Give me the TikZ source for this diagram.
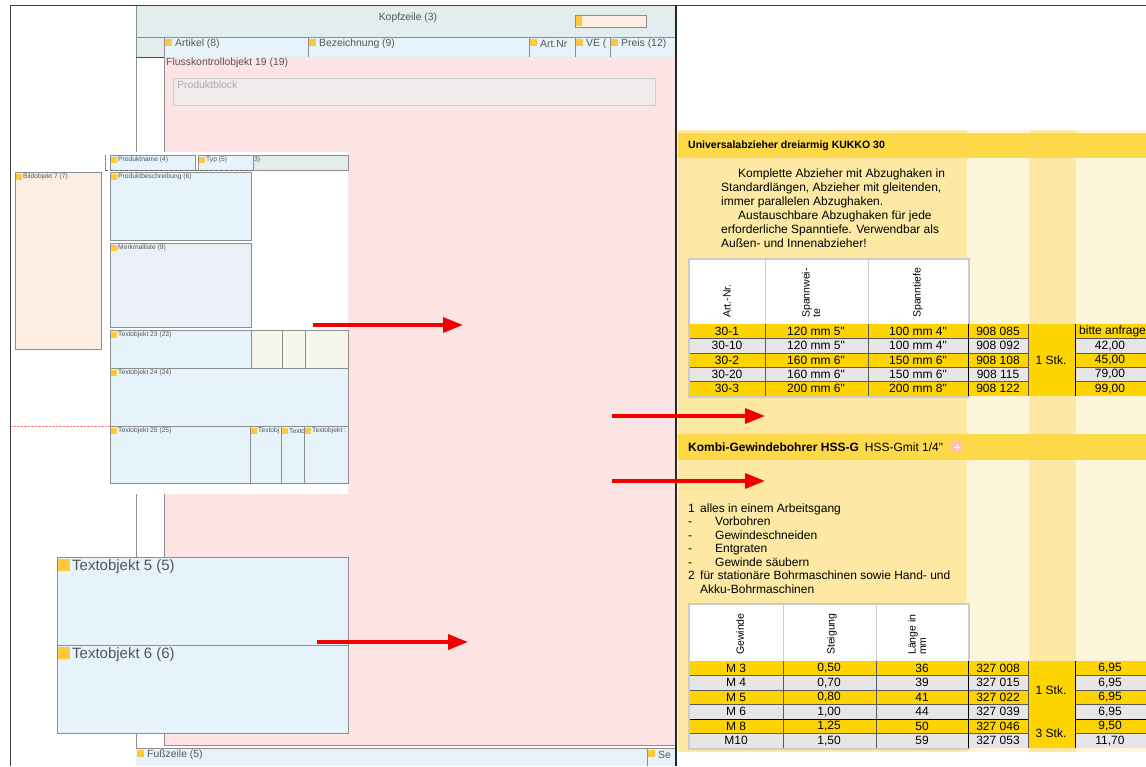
\documentclass[tikz,border=0pt]{standalone}
\usepackage{fontspec}
\setmainfont{Liberation Sans}
\usetikzlibrary{arrows.meta}
\usepackage{xcolor}

\definecolor{headgrey}{HTML}{E2EDED}
\definecolor{cellblue}{HTML}{E6F3FA}
\definecolor{flowpink}{HTML}{FDE4E4}
\definecolor{blockgrey}{HTML}{F0EAEA}
\definecolor{peach}{HTML}{FDEEE1}
\definecolor{lavender}{HTML}{EBEFF8}
\definecolor{cream}{HTML}{F6F7EA}
\definecolor{tagyellow}{HTML}{FBC93B}
\definecolor{framegrey}{HTML}{8E8E8E}
\definecolor{labelgrey}{HTML}{555555}
\definecolor{paleyellow}{HTML}{FDE9A4}
\definecolor{lightstripe}{HTML}{FEF6DA}
\definecolor{bandgold}{HTML}{FDD848}
\definecolor{rowyellow}{HTML}{FED400}
\definecolor{rowgrey}{HTML}{E6E6E6}
\definecolor{tabgrey}{HTML}{CCCCCC}
\definecolor{arrowred}{HTML}{F00000}

\begin{document}
\begin{tikzpicture}[x=1pt,y=-1pt,
  box/.style={draw=framegrey, line width=0.6pt},
  tag/.style={fill=tagyellow},
  lbl/.style={inner sep=0pt, text=labelgrey, font=\fontsize{10.4}{11}\selectfont},
  small/.style={inner sep=0pt, text=labelgrey, font=\fontsize{6.7}{7}\selectfont},
  big/.style={inner sep=0pt, text=labelgrey, font=\fontsize{15}{16}\selectfont},
  txt/.style={inner sep=0pt, font=\fontsize{12}{13}\selectfont},
  cell/.style={inner sep=0pt, font=\fontsize{12}{12}\selectfont},
  headtxt/.style={inner sep=0pt, rotate=90, align=left, font=\fontsize{10.5}{10.5}\selectfont},
  rowline/.style={draw=black!65, line width=0.5pt},
  redarrow/.style={draw=arrowred, line width=3.5pt, -{Triangle[length=20pt,width=15pt]}}]
\useasboundingbox (0,0) rectangle (1146,766);
\fill[white] (0,0) rectangle (1146,766);

%%% left: layout editor
%kopfzeile
\fill[headgrey] (136,5) rectangle (676,57);
\draw[box] (136,5) rectangle (676,37);
\node[lbl] (kopf) at (408,18) {Kopfzeile (3)};
\draw[box, fill=peach] (575,15) rectangle (646,27);
\fill[tag] (576,16) rectangle (582,26);
%column titles
\draw[box, fill=headgrey] (136,37) rectangle (164,57);
\foreach \xa/\xb/\t in {164/308/Artikel (8), 308/529/Bezeichnung (9), 529/575/Art.Nr, 575/610/VE (, 610/676/Preis (12)}{
  \draw[box, fill=cellblue] (\xa,37) rectangle (\xb,57);
  \fill[tag] (\xa+1,39) rectangle (\xa+8,46);
  \node[lbl, anchor=west] at (\xa+11,43.5) {\t};
}
%flow control area
\fill[flowpink] (164,57) rectangle (676,745);
\draw[box] (164,57) -- (164,745) -- (676,745);
\draw[box] (136,37) -- (136,766);
\draw[line width=1.4pt, black!70] (136,57.5) -- (164,57.5);
\node[lbl, anchor=west] (flow) at (166,63) {Flusskontrollobjekt 19 (19)};
\draw[tabgrey, line width=1pt, fill=blockgrey] (173,78) rectangle (655,105);
\node[lbl, anchor=west, text=black!33] (block) at (177,85) {Produktblock};

%product block overlay
\fill[white] (11,152) rectangle (348,494);
\draw[box] (105,155) -- (105,170);
\draw[box, fill=cellblue] (110,155) rectangle (195,170);
\draw[box, fill=cellblue] (198,155) rectangle (253,170);
\draw[box, fill=headgrey] (253,155) rectangle (348,170);
\draw[black!60, densely dashed] (105,170) -- (253,170);
\fill[tag] (111,157) rectangle (117,163);
\node[small, anchor=west] at (118,160) {Produktname (4)};
\fill[tag] (199,157) rectangle (205,163);
\node[small, anchor=west] at (206,160) {Typ (5)};
\node[small, anchor=west] at (254,160) {3)};
%boxes
\draw[box, fill=peach] (15,172) rectangle (101,349);
\draw[box, fill=cellblue] (110,172) rectangle (251,240);
\draw[box, fill=lavender] (110,243) rectangle (251,327);
\draw[box, fill=cellblue] (110,330) rectangle (251,368);
\foreach \xa/\xb in {251/282, 282/305, 305/348}
  \draw[box, fill=cream] (\xa,330) rectangle (\xb,368);
\draw[box, fill=cellblue] (110,368) rectangle (348,426);
\draw[red!50, densely dotted] (11,426) -- (110,426);
\draw[box, fill=cellblue] (110,426) rectangle (250,483);
\foreach \xa/\xb in {250/281, 281/304, 304/348}
  \draw[box, fill=cellblue] (\xa,426) rectangle (\xb,483);
\foreach \xa/\ya/\t in {15/172/Bildobjekt 7 (7), 110/172/Produktbeschreibung (6), 110/243/Merkmalliste (9),
    110/330/Textobjekt 23 (23), 110/368/Textobjekt 24 (24), 110/426/Textobjekt 25 (25),
    250/426/Textobj, 281/426/Textc, 304/426/Textobjekt :}{
  \fill[tag] (\xa+1,\ya+2) rectangle (\xa+7,\ya+8);
  \node[small, anchor=west] at (\xa+8,\ya+5) {\t};
}

%text objects 5 and 6
\draw[box, fill=cellblue] (57,557) rectangle (348,645);
\draw[box, fill=cellblue] (57,645) rectangle (348,733);
\fill[tag] (58,559) rectangle (70,571);
\node[big, anchor=west] (text5) at (72,567) {Textobjekt 5 (5)};
\fill[tag] (58,647) rectangle (70,659);
\node[big, anchor=west] (text6) at (72,655) {Textobjekt 6 (6)};

%fusszeile
\fill[cellblue] (136,748) rectangle (676,766);
\draw[box] (136,748) -- (676,748) (647,748) -- (647,766);
\fill[tag] (137,750) rectangle (144,757);
\node[lbl, anchor=west] (foot) at (147,754.5) {Fußzeile (5)};
\fill[tag] (648,750) rectangle (655,757);
\node[lbl, anchor=west] at (658,754.5) {Se};

%frame
\draw[line width=1pt, black!75] (10,766) -- (10,5) -- (1146,5);
\draw[line width=2pt, black!85] (676,5) -- (676,766);

%%% right: print preview
\fill[paleyellow] (678,130) rectangle (967,752);
\fill[lightstripe] (967,130) rectangle (1029,752);
\fill[paleyellow] (1029,130) rectangle (1076,752);
\fill[lightstripe] (1076,130) rectangle (1146,752);
%title bands
\fill[bandgold] (678,133) rectangle (1146,158);
\node[txt, anchor=west, font=\fontsize{10.5}{11}\selectfont\bfseries] (title1) at (688,145.5) {Universalabzieher dreiarmig KUKKO 30};
\fill[bandgold] (678,434) rectangle (1146,460);
\node[txt, anchor=west, font=\fontsize{12}{13}\selectfont] (title2) at (688,447) {\textbf{Kombi-Gewindebohrer HSS-G}\enspace HSS-Gmit 1/4\textquotedbl};
\fill[red!25] (952,442) rectangle (962,452);
\draw[white, line width=1pt] (957,444) -- (957,450) (954,447) -- (960,447);

%description
\foreach \dx/\t [count=\i from 0] in {17/{Komplette Abzieher mit Abzughaken in}, 0/{Standardlängen, Abzieher mit gleitenden,},
    0/{immer parallelen Abzughaken.}, 17/{Austauschbare Abzughaken für jede}, 0/{erforderliche Spanntiefe. Verwendbar als},
    0/{Außen- und Innenabzieher!}}
  \node[txt, anchor=base west] at (721+\dx,177+14*\i) {\t};

%table 1
\draw[tabgrey, line width=2.5pt, fill=white] (689,259) rectangle (969,397);
\draw[tabgrey, line width=1pt] (765,260) -- (765,323) (868,260) -- (868,323);
\node[headtxt, anchor=west] at (727,318) {Art.-Nr.};
\node[headtxt, anchor=west] at (811,318) {Spannwei-\\te};
\node[headtxt, anchor=west] at (918,318) {Spanntiefe};
\fill[rowyellow] (1028,324) rectangle (1075,396);
\foreach \fc/\a/\b/\c/\n/\p/\pa/\px [count=\i from 0] in {
    rowyellow/30-1/120 mm 5\textquotedbl/100 mm 4\textquotedbl/908 085/bitte anfrage/west/1079,
    rowgrey/30-10/120 mm 5\textquotedbl/100 mm 4\textquotedbl/908 092/{42,00}/center/1110,
    rowyellow/30-2/160 mm 6\textquotedbl/150 mm 6\textquotedbl/908 108/{45,00}/center/1110,
    rowgrey/30-20/160 mm 6\textquotedbl/150 mm 6\textquotedbl/908 115/{79,00}/center/1110,
    rowyellow/30-3/200 mm 6\textquotedbl/200 mm 8\textquotedbl/908 122/{99,00}/center/1110}{
  \fill[\fc] (690,324+14.4*\i) rectangle (1028,338.4+14.4*\i);
  \fill[\fc] (1075,324+14.4*\i) rectangle (1146,338.4+14.4*\i);
  \node[cell] at (727,331.2+14.4*\i) {\a};
  \node[cell] at (816,331.2+14.4*\i) {\b};
  \node[cell] at (918,331.2+14.4*\i) {\c};
  \node[cell] at (998,331.2+14.4*\i) {\n};
  \node[cell, anchor=\pa] at (\px,331.2+14.4*\i) {\p};
}
\foreach \i in {1,...,4}
  \draw[rowline] (690,324+14.4*\i) -- (1028,324+14.4*\i) (1075,324+14.4*\i) -- (1146,324+14.4*\i);
\draw[rowline] (765,324) -- (765,396) (868,324) -- (868,396) (1028,324) -- (1028,396);
\draw[black, line width=1pt] (968,324) -- (968,396) (1075,324) -- (1075,396);
\node[cell] (stk1) at (1051,360) {1 Stk.};

%list
\node[txt, anchor=base west] at (688,512) {1};
\node[txt, anchor=base west] at (700,512) {alles in einem Arbeitsgang};
\foreach \t [count=\i] in {Vorbohren, Gewindeschneiden, Entgraten, Gewinde säubern}{
  \node[txt, anchor=base west] at (688,512+13.5*\i) {-};
  \node[txt, anchor=base west] at (715,512+13.5*\i) {\t};
}
\node[txt, anchor=base west] at (688,579.5) {2};
\node[txt, anchor=base west] at (700,579.5) {für stationäre Bohrmaschinen sowie Hand- und};
\node[txt, anchor=base west] at (700,593) {Akku-Bohrmaschinen};

%table 2
\draw[tabgrey, line width=2.5pt, fill=white] (689,604) rectangle (969,749);
\draw[tabgrey, line width=1pt] (783,605) -- (783,660) (876,605) -- (876,660);
\node[headtxt, anchor=west] at (740,655) {Gewinde};
\node[headtxt, anchor=west] at (832,655) {Steigung};
\node[headtxt, anchor=west] at (917,655) {Länge in\\mm};
\fill[rowyellow] (1028,661) rectangle (1075,748);
\foreach \fc/\a/\b/\c/\n/\p [count=\i from 0] in {
    rowyellow/M\ 3/{0,50}/36/327 008/{6,95},
    rowgrey/M\ 4/{0,70}/39/327 015/{6,95},
    rowyellow/M\ 5/{0,80}/41/327 022/{6,95},
    rowgrey/M\ 6/{1,00}/44/327 039/{6,95},
    rowyellow/M\ 8/{1,25}/50/327 046/{9,50},
    rowgrey/M10/{1,50}/59/327 053/{11,70}}{
  \fill[\fc] (690,661+14.5*\i) rectangle (1028,675.5+14.5*\i);
  \fill[\fc] (1075,661+14.5*\i) rectangle (1146,675.5+14.5*\i);
  \node[cell] at (736,668.25+14.5*\i) {\a};
  \node[cell] at (829,668.25+14.5*\i) {\b};
  \node[cell] at (922,668.25+14.5*\i) {\c};
  \node[cell] at (998,668.25+14.5*\i) {\n};
  \node[cell] at (1110,668.25+14.5*\i) {\p};
}
\foreach \i in {1,...,5}
  \draw[rowline] (690,661+14.5*\i) -- (1028,661+14.5*\i) (1075,661+14.5*\i) -- (1146,661+14.5*\i);
\draw[rowline] (783,661) -- (783,748) (876,661) -- (876,748) (1028,661) -- (1028,748);
\draw[black, line width=1pt] (968,661) -- (968,748) (1075,661) -- (1075,748);
\draw[black, line width=1pt] (690,719) -- (1028,719) (1075,719) -- (1146,719);
\node[cell] (stk2) at (1051,690) {1 Stk.};
\node[cell] (stk3) at (1051,733.5) {3 Stk.};

%arrows
\coordinate (a1s) at (313,325); \coordinate (a1e) at (463,325);
\coordinate (a2s) at (612,416); \coordinate (a2e) at (765,416);
\coordinate (a3s) at (612,481); \coordinate (a3e) at (765,481);
\coordinate (a4s) at (317,642); \coordinate (a4e) at (468,642);
\draw[redarrow] (a1s) -- (a1e);
\draw[redarrow] (a2s) -- (a2e);
\draw[redarrow] (a3s) -- (a3e);
\draw[redarrow] (a4s) -- (a4e);
\end{tikzpicture}
\end{document}
